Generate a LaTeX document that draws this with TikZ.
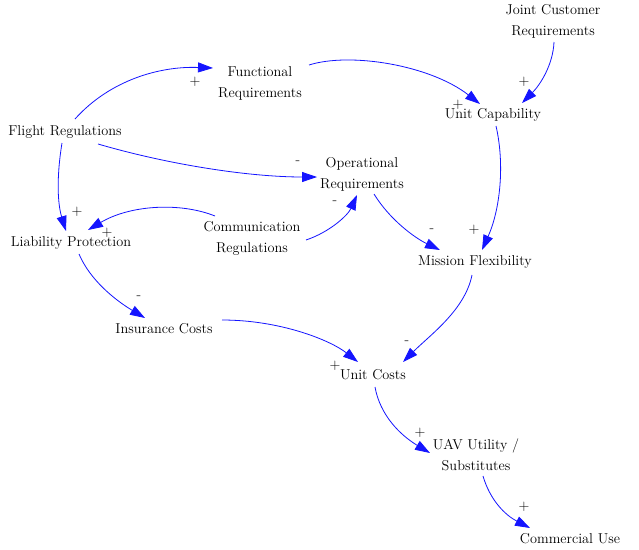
\documentclass[tikz,border=0pt]{standalone}
\usepackage{fontspec}
\usetikzlibrary{arrows.meta}
\definecolor{linkblue}{RGB}{20,20,255}
\begin{document}
\begin{tikzpicture}[x=1pt,y=-1pt,
  var/.style={inner sep=0pt,align=center,font=\fontsize{14.3}{21}\selectfont},
  pol/.style={inner sep=0pt,font=\fontsize{15}{16}\selectfont},
  link/.style={draw=linkblue,line width=0.8pt,-{Triangle[length=15pt,width=10pt]},fill=none}]
\fill[white] (0,0) rectangle (639,549);
\useasboundingbox (0,0) rectangle (639,549);
% variables
\node[var] (jcr) at (553,21) {Joint Customer\\Requirements};
\node[var] (frq) at (260,83) {Functional\\Requirements};
\node[var] (uc) at (493,115) {Unit Capability};
\node[var] (flr) at (65,132) {Flight Regulations};
\node[var] (opr) at (362,174) {Operational\\Requirements};
\node[var] (lp) at (71,243) {Liability Protection};
\node[var] (cr) at (252,238) {Communication\\Regulations};
\node[var] (mf) at (475,262) {Mission Flexibility};
\node[var] (ic) at (164,329) {Insurance Costs};
\node[var] (ucost) at (373,375) {Unit Costs};
\node[var] (uav) at (476,455) {UAV Utility /\\Substitutes};
\node[var] (cu) at (570,539) {Commercial Use};
% links
\draw[link] ([shift={(10,-13)}]flr.center) .. controls +(35,-39) and +(-53,-2) .. ([shift={(-47,-15)}]frq.center);
\draw[link] ([shift={(33,12)}]flr.center) .. controls +(72,21) and +(-67,0) .. ([shift={(-45,3)}]opr.center);
\draw[link] ([shift={(-3,11)}]flr.center) .. controls +(-6,37) and +(-8,-26) .. ([shift={(-5,-12)}]lp.center);
\draw[link] ([shift={(-37,-22)}]cr.center) .. controls +(-35,-14) and +(42,-25) .. ([shift={(17,-13)}]lp.center);
\draw[link] ([shift={(54,2)}]cr.center) .. controls +(24,-8) and +(-9,20) .. ([shift={(-5,21)}]opr.center);
\draw[link] ([shift={(49,-18)}]frq.center) .. controls +(41,-13) and +(-50,-39) .. ([shift={(-13,-11)}]uc.center);
\draw[link] ([shift={(1,21)}]jcr.center) .. controls +(-1,23) and +(18,-18) .. ([shift={(29,-12)}]uc.center);
\draw[link] ([shift={(3,11)}]uc.center) .. controls +(9,39) and +(18,-40) .. ([shift={(7,-12)}]mf.center);
\draw[link] ([shift={(12,20)}]opr.center) .. controls +(16,26) and +(-25,-12) .. ([shift={(-35,-12)}]mf.center);
\draw[link] ([shift={(8,11)}]lp.center) .. controls +(11,26) and +(-30,-18) .. ([shift={(-19,-11)}]ic.center);
\draw[link] ([shift={(58,-9)}]ic.center) .. controls +(58,0) and +(-28,-22) .. ([shift={(-15,-13)}]ucost.center);
\draw[link] ([shift={(-3,13)}]mf.center) .. controls +(-7,35) and +(27,-27) .. ([shift={(30,-13)}]ucost.center);
\draw[link] ([shift={(2,12)}]ucost.center) .. controls +(5,28) and +(-30,-18) .. ([shift={(-46,-2)}]uav.center);
\draw[link] ([shift={(7,21)}]uav.center) .. controls +(7,24) and +(-25,-13) .. ([shift={(-40,-11)}]cu.center);
% polarities
\node[pol] (p1) at (195,82) {+};
\node[pol] (p2) at (298,163) {-};
\node[pol] (p3) at (77,212) {+};
\node[pol] (p4) at (107,233) {+};
\node[pol] (p5) at (335,203) {-};
\node[pol] (p6) at (458,105) {+};
\node[pol] (p7) at (524,82) {+};
\node[pol] (p8) at (474,230) {+};
\node[pol] (p9) at (432,231) {-};
\node[pol] (p10) at (139,298) {-};
\node[pol] (p11) at (335,366) {+};
\node[pol] (p12) at (407,343) {-};
\node[pol] (p13) at (420,433) {+};
\node[pol] (p14) at (524,507) {+};
\end{tikzpicture}
\end{document}
